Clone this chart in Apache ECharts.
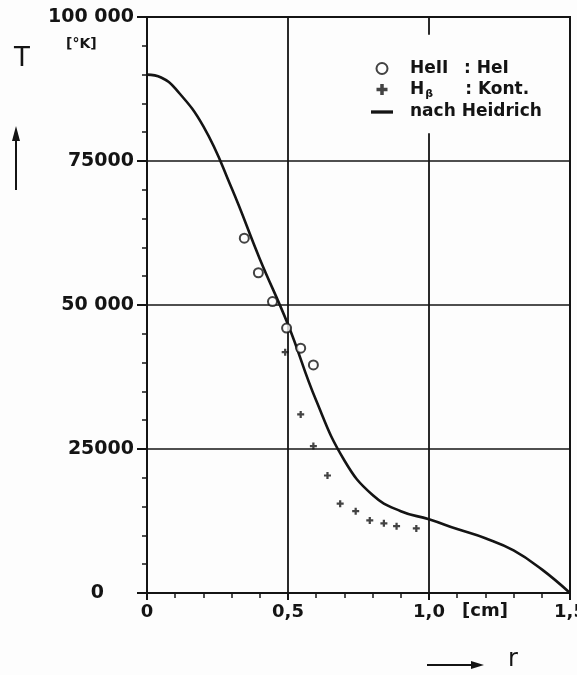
<!DOCTYPE html>
<html>
<head>
<meta charset="utf-8">
<script src="https://cdn.jsdelivr.net/npm/echarts@6/dist/echarts.min.js"></script>
<style>
html,body{margin:0;padding:0;background:#fdfdfd;}
#c{width:577px;height:675px;}
</style>
</head>
<body>
<div id="c"></div>
<script>
// ---- data ----
const curveR = [0, 0.05, 0.1, 0.2, 0.3, 0.4, 0.5, 0.6, 0.7, 0.8, 0.9, 1.0, 1.1, 1.2, 1.3, 1.4, 1.5];
const curveT = [90000, 89500, 87600, 81000, 70300, 58000, 46600, 33400, 23000, 17000, 14200, 12800, 11100, 9500, 7400, 4100, 0];

const heR = [0.345, 0.395, 0.445, 0.495, 0.545, 0.59];
const heT = [61600, 55600, 50600, 46000, 42500, 39600];

const hbR = [0.49, 0.545, 0.59, 0.64, 0.685, 0.74, 0.79, 0.84, 0.885, 0.955];
const hbT = [41800, 31000, 25500, 20400, 15500, 14200, 12600, 12100, 11600, 11200];

const xTickValues = [0, 0.5, 1.0, 1.5];
const xTickLabels = ['0', '0,5', '1,0', '1,5'];
const yTickValues = [0, 25000, 50000, 75000, 100000];
const yTickLabels = ['0', '25000', '50 000', '75000', '100 000'];

const seriesNames = ['HeII : HeI', 'Hβ : Kont.', 'nach Heidrich'];

// ---- chart ----
const INK = '#141414';
const FONT = 'DejaVu Sans';
const zip = (a, b) => a.map((v, i) => [v, b[i]]);
const plusPath = 'path://M3.4,0 L6.6,0 L6.6,3.4 L10,3.4 L10,6.6 L6.6,6.6 L6.6,10 L3.4,10 L3.4,6.6 L0,6.6 L0,3.4 L3.4,3.4 Z';
const dashPath = 'path://M0,0 L20,0 L20,3 L0,3 Z';

const chart = echarts.init(document.getElementById('c'), null, {renderer: 'canvas'});
chart.setOption({
  backgroundColor: '#fdfdfd',
  animation: false,
  grid: {left: 147, right: 7, top: 17, bottom: 82, containLabel: false, outerBoundsMode: 'none',
         show: true, borderColor: INK, borderWidth: 2, backgroundColor: 'transparent'},
  xAxis: {
    type: 'value', min: 0, max: 1.5, interval: 0.5,
    axisLine: {show: true, onZero: false, lineStyle: {color: INK, width: 2}},
    axisTick: {show: true, length: 7, lineStyle: {color: INK, width: 2}},
    minorTick: {show: true, splitNumber: 5, length: 5, lineStyle: {color: INK, width: 1.5}},
    splitLine: {show: false},
    axisLabel: {
      margin: 10, color: INK, fontFamily: FONT, fontWeight: 'bold', fontSize: 18, hideOverlap: false,
      formatter: v => { const i = xTickValues.findIndex(t => Math.abs(t - v) < 1e-9); return i >= 0 ? xTickLabels[i] : ''; }
    }
  },
  yAxis: {
    type: 'value', min: 0, max: 100000, interval: 25000,
    axisLine: {show: true, onZero: false, lineStyle: {color: INK, width: 2}},
    axisTick: {show: true, length: 10, lineStyle: {color: INK, width: 2}},
    minorTick: {show: true, splitNumber: 5, length: 5, lineStyle: {color: INK, width: 1.5}},
    splitLine: {show: true, lineStyle: {color: INK, width: 1.6}},
    axisLabel: {
      margin: 13, color: INK, fontFamily: FONT, fontWeight: 'bold', fontSize: 19,
      formatter: v => {
        const i = yTickValues.indexOf(v);
        const s = i >= 0 ? yTickLabels[i] : '';
        return v === 0 ? '{z|' + s + '}' : s;
      },
      rich: {z: {padding: [0, 30, 0, 0], color: INK, fontFamily: FONT, fontWeight: 'bold', fontSize: 19}}
    }
  },
  legend: {
    orient: 'vertical', left: 366, top: 55,
    itemWidth: 22, itemHeight: 11, itemGap: 4, symbolKeepAspect: true,
    data: [
      {name: seriesNames[0]},
      {name: seriesNames[1]},
      {name: seriesNames[2], icon: dashPath}
    ],
    formatter: name => {
      if (name === seriesNames[0]) return '{p|}{a|HeII}{b|: HeI}';
      if (name === seriesNames[1]) return '{p|}{h|H}{s|β}{b|: Kont.}';
      return '{p|}{b|nach Heidrich}';
    },
    textStyle: {
      color: INK, fontFamily: FONT, fontWeight: 'bold', fontSize: 17,
      rich: {
        p: {width: 12},
        a: {width: 54, lineHeight: 18, color: INK, fontFamily: FONT, fontWeight: 'bold', fontSize: 17},
        h: {lineHeight: 18, color: INK, fontFamily: FONT, fontWeight: 'bold', fontSize: 17},
        s: {width: 40, color: INK, fontFamily: FONT, fontWeight: 'bold', fontSize: 11, padding: [9, 0, 0, 1]},
        b: {lineHeight: 18, color: INK, fontFamily: FONT, fontWeight: 'bold', fontSize: 17}
      }
    }
  },
  series: [
    {
      name: seriesNames[0], type: 'scatter', data: zip(heR, heT),
      symbol: 'emptyCircle', symbolSize: 9,
      itemStyle: {color: INK, borderColor: INK, borderWidth: 2.4}, z: 5
    },
    {
      name: seriesNames[1], type: 'scatter', data: zip(hbR, hbT),
      symbol: plusPath, symbolSize: 7,
      itemStyle: {color: INK}, z: 5
    },
    {
      name: seriesNames[2], type: 'line', data: zip(curveR, curveT),
      smooth: 0.45, symbol: 'none', showSymbol: false,
      lineStyle: {color: INK, width: 2.6}, itemStyle: {color: INK}, z: 4,
      markLine: {
        silent: true, symbol: 'none', label: {show: false},
        lineStyle: {color: INK, width: 1.8, type: 'solid'},
        data: [
          [{coord: [0.5, 0]}, {coord: [0.5, 100000]}],
          [{coord: [1.0, 0]}, {coord: [1.0, 79800]}],
          [{coord: [1.0, 100000]}, {coord: [1.0, 96900]}]
        ]
      }
    }
  ],
  graphic: [
    {type: 'text', left: 14, top: 46, style: {text: 'T', fill: INK, font: '26px "DejaVu Sans"'}},
    {type: 'text', left: 66, top: 37, style: {text: '[°K]', fill: INK, font: 'bold 14px "DejaVu Sans"'}},
    {type: 'line', shape: {x1: 16, y1: 190, x2: 16, y2: 136}, style: {stroke: INK, lineWidth: 2}},
    {type: 'polygon', shape: {points: [[16, 126], [12, 141], [20, 141]]}, style: {fill: INK}},
    {type: 'text', left: 462, top: 602, style: {text: '[cm]', fill: INK, font: 'bold 18px "DejaVu Sans"'}},
    {type: 'line', shape: {x1: 427, y1: 665, x2: 474, y2: 665}, style: {stroke: INK, lineWidth: 2}},
    {type: 'polygon', shape: {points: [[484, 665], [471, 661], [471, 669]]}, style: {fill: INK}},
    {type: 'text', left: 508, top: 648, style: {text: 'r', fill: INK, font: '24px "DejaVu Sans"'}}
  ]
});
</script>
</body>
</html>
